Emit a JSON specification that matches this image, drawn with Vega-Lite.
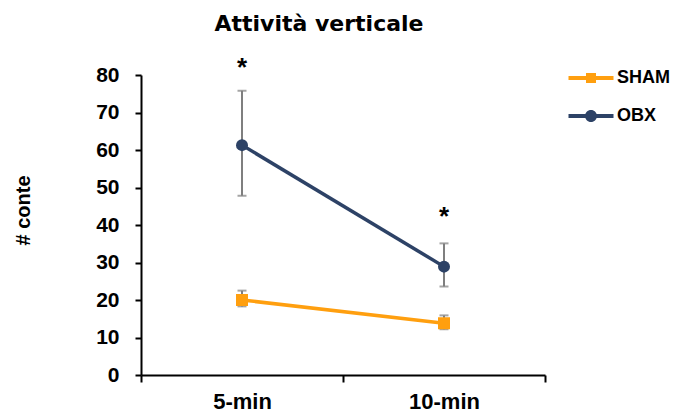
{
  "$schema": "https://vega.github.io/schema/vega-lite/v6.json",
  "width": 404,
  "height": 300,
  "autosize": {"type": "none"},
  "padding": {"left": 141, "top": 75, "right": 130, "bottom": 39},
  "background": "white",
  "config": {
    "view": {"stroke": null},
    "axisY": {"grid": false, "tickCount": 10, "labelOverlap": false, "labelFont": "Liberation Sans", "labelFontSize": 21, "labelFontWeight": "bold", "labelColor": "#000000", "labelPadding": 16, "tickSize": 6, "tickWidth": 2, "tickColor": "#000000", "domainWidth": 2, "domainColor": "#000000", "titleFont": "Liberation Sans", "titleFontSize": 20, "titleFontWeight": "bold", "titleColor": "#000000"}
  },
  "title": {"text": "Attività verticale", "font": "DejaVu Sans", "fontSize": 22, "fontWeight": "bold", "color": "#000000", "anchor": "middle", "dx": -24, "offset": 19},
  "datasets": {
    "stats": [
      {"time": "5-min", "group": "SHAM", "mean": 20, "lo": 18.3, "hi": 22.5},
      {"time": "10-min", "group": "SHAM", "mean": 13.8, "lo": 12.2, "hi": 15.9},
      {"time": "5-min", "group": "OBX", "mean": 61.3, "lo": 47.8, "hi": 75.8},
      {"time": "10-min", "group": "OBX", "mean": 28.9, "lo": 23.6, "hi": 35.1}
    ],
    "stars": [
      {"time": "5-min", "label": "*", "pos": 83},
      {"time": "10-min", "label": "*", "pos": 43.3}
    ]
  },
  "data": {"name": "stats"},
  "encoding": {
    "x": {
      "field": "time", "type": "nominal", "sort": ["5-min", "10-min"],
      "scale": {"paddingInner": 0, "paddingOuter": 0},
      "axis": {"title": null, "labelAngle": 0, "tickBand": "extent", "labelFont": "Liberation Sans", "labelFontSize": 22, "labelFontWeight": "bold", "labelColor": "#000000", "labelPadding": 9, "tickSize": 7, "tickWidth": 2, "tickColor": "#000000", "domainWidth": 2, "domainColor": "#000000"}
    }
  },
  "layer": [
    {
      "mark": {"type": "rule", "color": "#7F7F7F", "strokeWidth": 2},
      "encoding": {
        "y": {"field": "lo", "type": "quantitative", "scale": {"domain": [0, 80], "nice": false},
          "axis": {"title": "# conte", "values": [0, 10, 20, 30, 40, 50, 60, 70, 80], "tickCount": 10, "titleX": -118, "titleY": 135, "titleBaseline": "middle", "titleAngle": -90}},
        "y2": {"field": "hi"}
      }
    },
    {
      "mark": {"type": "tick", "color": "#7F7F7F", "thickness": 2, "size": 9},
      "encoding": {"y": {"field": "lo", "type": "quantitative", "axis": {"title": "# conte", "values": [0, 10, 20, 30, 40, 50, 60, 70, 80], "tickCount": 10, "titleX": -118, "titleY": 135, "titleBaseline": "middle", "titleAngle": -90}}}
    },
    {
      "mark": {"type": "tick", "color": "#7F7F7F", "thickness": 2, "size": 9},
      "encoding": {"y": {"field": "hi", "type": "quantitative", "axis": {"title": "# conte", "values": [0, 10, 20, 30, 40, 50, 60, 70, 80], "tickCount": 10, "titleX": -118, "titleY": 135, "titleBaseline": "middle", "titleAngle": -90}}}
    },
    {
      "transform": [{"filter": "datum.group === 'SHAM'"}],
      "mark": {"type": "line", "color": "#FF9F0F", "strokeWidth": 3.5},
      "encoding": {"y": {"field": "mean", "type": "quantitative", "axis": {"title": "# conte", "values": [0, 10, 20, 30, 40, 50, 60, 70, 80], "tickCount": 10, "titleX": -118, "titleY": 135, "titleBaseline": "middle", "titleAngle": -90}}}
    },
    {
      "transform": [{"filter": "datum.group === 'OBX'"}],
      "mark": {"type": "line", "color": "#2D4266", "strokeWidth": 3.5},
      "encoding": {"y": {"field": "mean", "type": "quantitative", "axis": {"title": "# conte", "values": [0, 10, 20, 30, 40, 50, 60, 70, 80], "tickCount": 10, "titleX": -118, "titleY": 135, "titleBaseline": "middle", "titleAngle": -90}}}
    },
    {
      "transform": [{"filter": "datum.group === 'SHAM'"}],
      "mark": {"type": "point", "shape": "square", "filled": true, "opacity": 1, "color": "#FF9F0F", "size": 144},
      "encoding": {"y": {"field": "mean", "type": "quantitative", "axis": {"title": "# conte", "values": [0, 10, 20, 30, 40, 50, 60, 70, 80], "tickCount": 10, "titleX": -118, "titleY": 135, "titleBaseline": "middle", "titleAngle": -90}}}
    },
    {
      "transform": [{"filter": "datum.group === 'OBX'"}],
      "mark": {"type": "point", "shape": "circle", "filled": true, "opacity": 1, "color": "#2D4266", "size": 144},
      "encoding": {"y": {"field": "mean", "type": "quantitative", "axis": {"title": "# conte", "values": [0, 10, 20, 30, 40, 50, 60, 70, 80], "tickCount": 10, "titleX": -118, "titleY": 135, "titleBaseline": "middle", "titleAngle": -90}}}
    },
    {
      "data": {"name": "stars"},
      "mark": {"type": "text", "font": "Liberation Sans", "fontSize": 26, "fontWeight": "bold", "color": "#000000", "baseline": "middle", "dy": 4},
      "encoding": {"y": {"field": "pos", "type": "quantitative", "axis": {"title": "# conte", "values": [0, 10, 20, 30, 40, 50, 60, 70, 80], "tickCount": 10, "titleX": -118, "titleY": 135, "titleBaseline": "middle", "titleAngle": -90}}, "text": {"field": "label"}}
    },
    {
      "transform": [{"filter": "false"}],
      "mark": {"type": "point", "filled": true, "opacity": 1, "strokeWidth": 0, "size": 400},
      "encoding": {
        "color": {"field": "group", "type": "nominal", "scale": {"domain": ["SHAM", "OBX"], "range": ["#FF9F0F", "#2D4266"]},
          "legend": {"title": null, "orient": "none", "legendX": 440, "legendY": -7, "labelFont": "Liberation Sans", "labelFontSize": 18, "labelFontWeight": "bold", "labelColor": "#000000", "labelOffset": 16, "rowPadding": 19, "symbolSize": 400, "symbolStrokeWidth": 0, "symbolOpacity": 1}},
        "shape": {"field": "group", "type": "nominal", "scale": {"domain": ["SHAM", "OBX"], "range": ["M-2.25,-0.2H2.25V0.2H-2.25Z M-0.5,-0.5H0.5V0.5H-0.5Z", "M-2.25,-0.2H2.25V0.2H-2.25Z M-0.6,0A0.6,0.6 0 1,1 0.6,0A0.6,0.6 0 1,1 -0.6,0Z"]},
          "legend": {"title": null, "orient": "none", "legendX": 440, "legendY": -7, "labelFont": "Liberation Sans", "labelFontSize": 18, "labelFontWeight": "bold", "labelColor": "#000000", "labelOffset": 16, "rowPadding": 19, "symbolSize": 400, "symbolStrokeWidth": 0, "symbolOpacity": 1}}
      }
    }
  ]
}
